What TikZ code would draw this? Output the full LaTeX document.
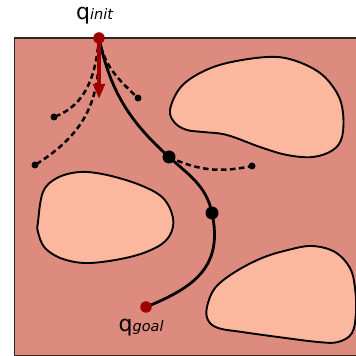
\documentclass[tikz,border=0pt]{standalone}
\usepackage{fontspec}
\setmainfont{DejaVu Sans}
\usetikzlibrary{arrows.meta}
\definecolor{bgc}{RGB}{221,139,126}
\definecolor{obsc}{RGB}{252,184,158}
\definecolor{qred}{RGB}{160,0,0}
\tikzset{
  obstacle/.style={fill=obsc, draw=black, line width=1.9pt},
  sol/.style={draw=black, line width=2.8pt},
  dsh/.style={draw=black, line width=2.5pt, dash pattern=on 5.5pt off 3.5pt},
  bigdot/.style={circle, fill=black, inner sep=0pt, minimum size=13pt},
  smalldot/.style={circle, fill=black, inner sep=0pt, minimum size=7pt},
  qdot/.style={circle, fill=qred, inner sep=0pt, minimum size=11.5pt},
  qlab/.style={inner sep=0pt, font=\fontsize{22}{22}\selectfont},
}
\newcommand{\subtxt}[1]{{\fontsize{14.5}{14.5}\selectfont\itshape #1}}
\begin{document}
\begin{tikzpicture}[x=1pt,y=1pt]
\useasboundingbox (0,0) rectangle (356,356);
\clip (0,0) rectangle (356,356);
% workspace
\draw[fill=bgc, draw=black!85, line width=1.5pt] (14.5,0.5) rectangle (370,318);
% obstacles
\draw[obstacle] plot[smooth cycle, tension=0.6] coordinates {
  (170,246) (180,268) (200,283) (227,293) (267,299) (293,296) (320,283)
  (337,263) (343,243) (342,219) (333,206) (313,199) (287,201) (260,209)
  (227,221) (203,224) (187,226) (175,233)};
\draw[obstacle] plot[smooth cycle, tension=0.6] coordinates {
  (38,134) (43,164) (57,178) (80,184) (107,181) (140,171) (163,158)
  (173,138) (170,121) (157,109) (130,99) (90,93) (63,97) (45,108) (38,124)};
\draw[obstacle] plot[smooth cycle, tension=0.6] coordinates {
  (207,49) (215,68) (235,84) (262,98) (288,106) (312,110) (335,104)
  (350,88) (355,68) (356,44) (352,23) (338,14) (318,14) (278,19)
  (242,24) (218,28) (208,36)};
% key points
\coordinate (init) at (99,318);
\coordinate (A) at (169,199);
\coordinate (B) at (212,143);
\coordinate (goal) at (146,49);
\coordinate (e1) at (138,258);
\coordinate (e2) at (54,239);
\coordinate (e3) at (35,191);
\coordinate (e4) at (252,190);
\coordinate (tip) at (99,257);
% dashed explored branches
\draw[dsh] (init) to[out=-80, in=137] (e1);
\draw[dsh] (init) to[out=-95, in=20] (e2);
\draw[dsh] (init) to[out=-88, in=32, looseness=1.1] (e3);
\draw[dsh] (A) to[out=-25, in=192] (e4);
% solution path
\draw[sol] (init) to[out=-78, in=138] (A) to[out=-42, in=102] (B)
  to[out=-78, in=22, looseness=1.2] (goal);
% direction arrow
\draw[qred, line width=3.8pt, -{Triangle[length=15pt, width=11.5pt]}] (init) -- (tip);
% dots
\node[smalldot] (d1) at (e1) {};
\node[smalldot] (d2) at (e2) {};
\node[smalldot] (d3) at (e3) {};
\node[smalldot] (d4) at (e4) {};
\node[bigdot] (nA) at (A) {};
\node[bigdot] (nB) at (B) {};
\node[qdot] (qi) at (init) {};
\node[qdot] (qg) at (goal) {};
% labels
\node[qlab, anchor=base west] (li) at (76,336.5) {q\subtxt{init}};
\node[qlab, anchor=base west] (lg) at (118.5,24) {q\subtxt{goal}};
\end{tikzpicture}
\end{document}
